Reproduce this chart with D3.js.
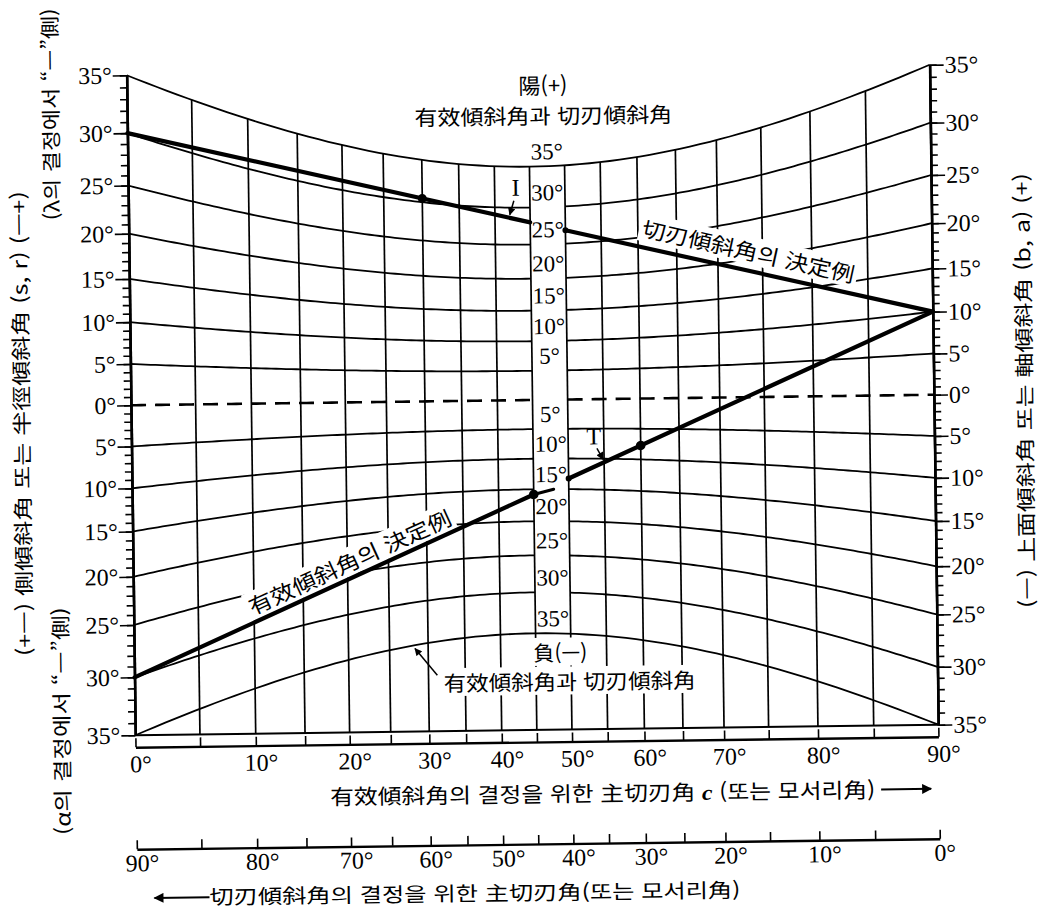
<!DOCTYPE html>
<html lang="ko">
<head>
<meta charset="UTF-8">
<title>有效傾斜角과 切刃傾斜角</title>
<script src="https://d3js.org/d3.v7.min.js"></script>
<style>
  body { margin: 0; background: #fff; }
  svg { display: block; background: #fff; }
  .num { font-family: "Liberation Serif", "DejaVu Serif", serif; font-size: 24px; fill: #000; }
  .cjk { font-family: "Noto Sans CJK KR", "Noto Sans CJK SC", sans-serif; font-size: 21px; fill: #000; }
  .it { font-family: "Liberation Serif", serif; font-style: italic; font-weight: bold; }
</style>
</head>
<body>
<svg width="1042" height="912"></svg>
<script>
  // angle of each curve of the family (deg), top to bottom
  const levels = [35, 30, 25, 20, 15, 10, 5, 0, -5, -10, -15, -20, -25, -30, -35];
  // main cutting edge angle c, grid every 5 deg
  const cGrid = [0, 5, 10, 15, 20, 25, 30, 35, 40, 45, 50, 55, 60, 65, 70, 75, 80, 85, 90];
  const cLabels = [0, 10, 20, 30, 40, 50, 60, 70, 80, 90];
  const minorDeg = d3.range(-35, 36);
  const columnC = [45, 50];          // label column sits between these c lines
  // worked examples: side rake s (left scale) -> back rake b (right scale)
  const exampleI = { s: 30, b: 10 };
  const exampleT = { s: -30, b: 10 };
  const dotsI = [30, 50];
  const dotsT = [45, 50, 60];
  const pointerI = 42, pointerT = 55;  // c where the I / T arrows touch
  const textCI = 73, textCT = 21;      // c at the middle of the example captions
  const noteC = 28;                    // c where the bottom note arrow meets the -35 curve

  const rad = Math.PI / 180;
  const tan = d => Math.tan(d * rad);
  const uOf = c => Math.sin(c * rad) / (Math.sin(c * rad) + Math.cos(c * rad));
  const curveVal = (a, u) => tan(a) * Math.hypot(u, 1 - u);
  const lineVal = (ex, u) => (1 - u) * tan(ex.s) + u * tan(ex.b);

  const svg = d3.select("svg");
  svg.append("defs").append("marker")
    .attr("id", "ah").attr("viewBox", "0 0 10 10").attr("refX", 9).attr("refY", 5)
    .attr("markerWidth", 6).attr("markerHeight", 5).attr("orient", "auto")
    .append("path").attr("d", "M0,0L10,5L0,10z").attr("fill", "#000");

  // the scanned sheet is slightly tilted
  const root = svg.append("g").attr("transform", "rotate(-0.75,532,400)");

  const xU = d3.scaleLinear().domain([0, 1]).range([131, 934]);
  const yS = d3.scaleLinear().domain([-tan(35), tan(35)]).range([730, 70]);
  const xC = d3.scaleLinear().domain(cGrid).range(cGrid.map(c => xU(uOf(c))));
  const [uA, uB] = columnC.map(uOf);
  const yBase = yS(-tan(35));

  const line = d3.line().x(d => xU(d[0])).y(d => yS(d[1]));
  const span = (u0, u1, n = 80) => d3.range(n + 1).map(i => u0 + (u1 - u0) * i / n);

  // vertical grid lines, from the +35 curve down to the base line
  root.append("g").selectAll("line").data(cGrid).join("line")
    .attr("x1", c => xC(c)).attr("x2", c => xC(c))
    .attr("y1", c => yS(curveVal(35, uOf(c)))).attr("y2", yBase)
    .attr("stroke", "#000").attr("stroke-width", 1.7);

  root.append("line")
    .attr("x1", xU(0)).attr("x2", xU(1)).attr("y1", yBase).attr("y2", yBase)
    .attr("stroke", "#000").attr("stroke-width", 2);

  // curve family
  const curves = root.append("g").attr("fill", "none").attr("stroke", "#000");
  levels.forEach(a => {
    const parts = Math.abs(a) === 35 ? [[0, 1]] : [[0, uA], [uB, 1]];
    parts.forEach(([u0, u1]) => {
      curves.append("path")
        .attr("d", line(span(u0, u1).map(u => [u, curveVal(a, u)])))
        .attr("stroke-width", a === 0 ? 2.6 : 1.8)
        .attr("stroke-dasharray", a === 0 ? "15,9" : null);
    });
  });

  // axes
  const degFmt = v => Math.abs(Math.round(Math.atan(v) / rad)) + "°";
  function styleAxis(g) {
    g.attr("font-size", null).attr("font-family", null);
    g.select(".domain").attr("stroke-width", 2.4);
    g.selectAll(".tick line").attr("stroke-width", 1.6);
    g.selectAll(".tick text").attr("class", "num");
  }
  [[d3.axisLeft, xU(0)], [d3.axisRight, xU(1)]].forEach(([ax, x]) => {
    root.append("g").attr("transform", `translate(${x},0)`)
      .call(ax(yS).tickValues(minorDeg.map(tan)).tickFormat("").tickSize(7).tickSizeOuter(0))
      .call(styleAxis);
    root.append("g").attr("transform", `translate(${x},0)`)
      .call(ax(yS).tickValues(levels.map(tan)).tickFormat(degFmt).tickSize(14).tickSizeOuter(0).tickPadding(1))
      .call(styleAxis);
  });

  root.append("g").attr("transform", "translate(0,742)")
    .call(d3.axisBottom(xC).tickValues(cGrid).tickSize(-9).tickSizeOuter(0).tickPadding(8)
      .tickFormat(c => cLabels.includes(c) ? c + "°" : ""))
    .call(styleAxis)
    .selectAll(".tick text").attr("dx", "0.2em");
  root.append("g").attr("transform", "translate(0,844)")
    .call(d3.axisBottom(xC).tickValues(cGrid).tickSize(-9).tickSizeOuter(0).tickPadding(5)
      .tickFormat(c => cLabels.includes(c) ? (90 - c) + "°" : ""))
    .call(styleAxis)
    .selectAll(".tick text").attr("dx", "0.2em");

  // labels in the middle column
  const uMid = (uA + uB) / 2;
  root.append("g").selectAll("text").data(levels.filter(a => a !== 0)).join("text")
    .attr("class", "num").style("font-size", "23px")
    .attr("x", xU(uMid)).attr("y", a => yS(curveVal(a, uMid)) - 7)
    .attr("text-anchor", "middle").text(a => Math.abs(a) + "°");

  function label(parent, x, y, s, cls, size, len, anchor = "middle") {
    const t = parent.append("text").attr("class", cls).attr("x", x).attr("y", y)
      .attr("text-anchor", anchor).style("font-size", size + "px").text(s);
    if (len) t.attr("textLength", len).attr("lengthAdjust", "spacingAndGlyphs");
    return t;
  }
  function blank(t, pad = 3) {
    const b = t.node().getBBox();
    d3.select(t.node().parentNode).insert("rect", () => t.node())
      .attr("x", b.x - pad).attr("y", b.y + 1).attr("width", b.width + 2 * pad)
      .attr("height", b.height - 2).attr("fill", "#fff");
  }

  label(root, 547, 94, "陽(+)", "cjk", 22);
  label(root, 547, 124, "有效傾斜角과 切刃傾斜角", "cjk", 21, 258);
  blank(label(root, 557, 661, "負(—)", "cjk", 21));
  blank(label(root, 566, 690, "有效傾斜角과 切刃傾斜角", "cjk", 21, 252));

  // captions running along the example lines
  function alongLine(ex, u0, u1, c, off, s, len) {
    const ang = Math.atan2(yS(lineVal(ex, u1)) - yS(lineVal(ex, u0)), xU(u1) - xU(u0)) / rad;
    const u = uOf(c);
    const g = root.append("g")
      .attr("transform", `translate(${xU(u)},${yS(lineVal(ex, u))}) rotate(${ang})`);
    blank(label(g, 0, off, s, "cjk", 21, len), 3);
  }
  alongLine(exampleT, 0, uA, textCT, -7, "有效傾斜角의 決定例", 220);
  alongLine(exampleI, uB, 1, textCI, -11, "切刃傾斜角의 決定例", 217);

  // example lines
  const thick = root.append("g").attr("stroke", "#000").attr("stroke-width", 4.2).attr("stroke-linecap", "round");
  [exampleI, exampleT].forEach(ex => {
    [[0, uA], [uB, 1]].forEach(([u0, u1]) => thick.append("line")
      .attr("x1", xU(u0)).attr("y1", yS(lineVal(ex, u0)))
      .attr("x2", xU(u1)).attr("y2", yS(lineVal(ex, u1))));
  });
  const tEnd = [xU(uA), yS(lineVal(exampleT, uA))];
  thick.append("line").attr("x1", tEnd[0]).attr("y1", tEnd[1])
    .attr("x2", tEnd[0] + 20).attr("y2", tEnd[1] - 5).attr("stroke-width", 3);

  root.append("g").selectAll("circle").data(dotsI).join("circle")
    .attr("cx", c => xU(uOf(c))).attr("cy", c => yS(lineVal(exampleI, uOf(c))))
    .attr("r", c => c === 50 ? 3 : 4.5);
  root.append("g").selectAll("circle").data(dotsT).join("circle")
    .attr("cx", c => xU(uOf(c))).attr("cy", c => yS(lineVal(exampleT, uOf(c))))
    .attr("r", c => c === 50 ? 3 : 4.8);

  // I and T pointers
  function pointer(p, name, lx, ly, ax, ay) {
    label(root, p[0] + lx, p[1] + ly, name, "num", 24);
    root.append("line").attr("x1", p[0] + ax).attr("y1", p[1] + ay)
      .attr("x2", p[0] + ax * 0.15).attr("y2", p[1] - 3)
      .attr("stroke", "#000").attr("stroke-width", 1.5).attr("marker-end", "url(#ah)");
  }
  const pI = [xU(uOf(pointerI)), yS(lineVal(exampleI, uOf(pointerI)))];
  const pT = [xU(uOf(pointerT)), yS(lineVal(exampleT, uOf(pointerT)))];
  pointer(pI, "I", 7, -22, 5, -17);
  pointer(pT, "T", -10, -18, -7, -14);

  const pN = [xU(uOf(noteC)), yS(curveVal(-35, uOf(noteC)))];
  root.append("line").attr("x1", pN[0] + 24).attr("y1", pN[1] + 30)
    .attr("x2", pN[0] + 2).attr("y2", pN[1] + 3)
    .attr("stroke", "#000").attr("stroke-width", 1.5).attr("marker-end", "url(#ah)");

  // axis captions
  const cap1 = label(root, 325, 802, "", "cjk", 21, 545, "start");
  cap1.append("tspan").text("有效傾斜角의 결정을 위한 主切刃角 ");
  cap1.append("tspan").attr("class", "it").text("c");
  cap1.append("tspan").text(" (또는 모서리角)");
  root.append("line").attr("x1", 876).attr("y1", 794).attr("x2", 926).attr("y2", 794)
    .attr("stroke", "#000").attr("stroke-width", 2).attr("marker-end", "url(#ah)");

  root.append("line").attr("x1", 203).attr("y1", 893).attr("x2", 148).attr("y2", 893)
    .attr("stroke", "#000").attr("stroke-width", 2).attr("marker-end", "url(#ah)");
  label(root, 203, 900, "切刃傾斜角의 결정을 위한 主切刃角(또는 모서리角)", "cjk", 20, 531, "start");

  function vlabel(x, y, s, len) {
    label(root, x, y, s, "cjk", 20, len)
      .attr("dy", "0.35em").attr("transform", `rotate(-90,${x},${y})`);
  }
  vlabel(22, 417, "(+—) 側傾斜角 또는 半徑傾斜角 (s, r) (—+)", 465);
  vlabel(55, 108, "(λ의 결정에서 “—”側)", 212);
  vlabel(58, 715, "(α의 결정에서 “—”側)", 228);
  vlabel(1025, 397, "(—) 上面傾斜角 또는 軸傾斜角 (b, a) (+)", 435);
</script>
</body>
</html>
